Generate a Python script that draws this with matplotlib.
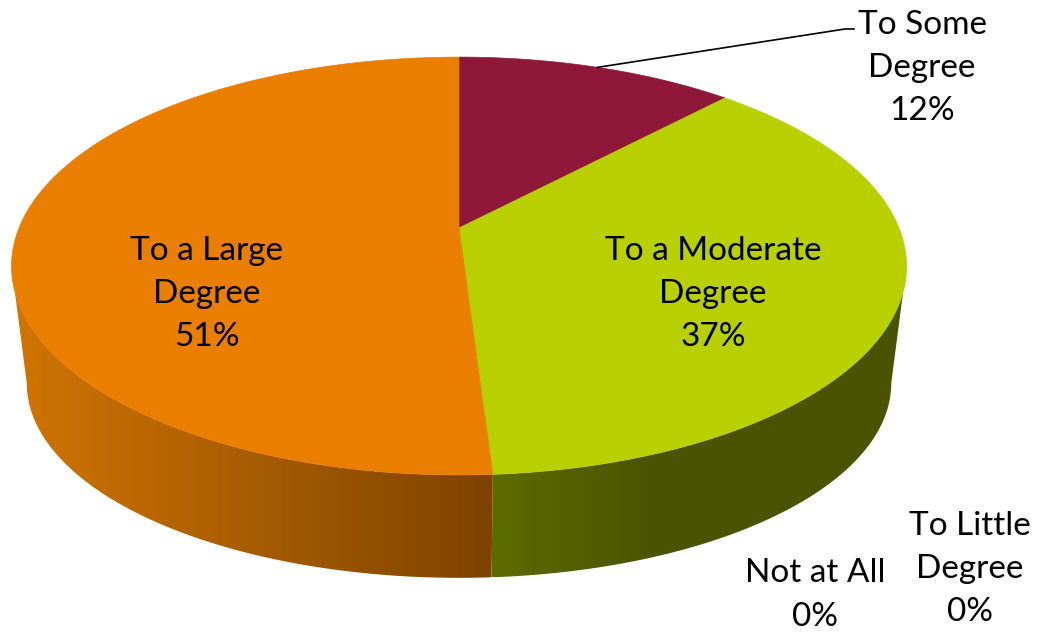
import numpy as np
import matplotlib.pyplot as plt
from matplotlib.patches import Polygon
from matplotlib.colors import LinearSegmentedColormap

# data
labels = ['To Some\nDegree', 'To a Moderate\nDegree', 'To Little\nDegree',
          'Not at All', 'To a Large\nDegree']
values = [12, 37, 0, 0, 51]
top_colors = ['#8f1739', '#b8d000', '#4f81bd', '#c0504d', '#e97e00']
side_colors = [('#6a0f2a', '#5a0c22'), ('#5c6c00', '#4a5300'),
               ('#3a5f8c', '#2c4a6e'), ('#8f3a38', '#6e2c2a'),
               ('#d07504', '#7e4300')]

# label text positions (pixels)
label_pos = [(922, 68), (713, 294), (970, 569), (815, 595), (207, 294)]

plt.rcParams['font.family'] = ['Lato', 'DejaVu Sans']

# projection of the pie (pixel space)
cx, cy = 459, 228
A, B, p = 440, 202, 0.182
A2, B2, Hd = 425, 188, 120


def top_pt(th):
    u, v = np.sin(th), -np.cos(th)
    s = 1 / (1 - p * v)
    return cx + A * u * s, cy + B * v * s


def bot_pt(th):
    u, v = np.sin(th), -np.cos(th)
    s = 1 / (1 - p * v)
    return cx + A2 * u * s, cy + Hd + B2 * v * s


fig = plt.figure(figsize=(10.39, 6.36), dpi=100)
ax = fig.add_axes([0, 0, 1, 1])
ax.set_xlim(0, 1039)
ax.set_ylim(636, 0)
ax.axis('off')

total = sum(values)
bounds = np.concatenate([[0], np.cumsum(values)]) / total * 2 * np.pi

# side walls (only the front part between the two silhouette tangents)
tang = np.arccos(-p)
lo, hi = tang, 2 * np.pi - tang
for i, val in enumerate(values):
    if val == 0:
        continue
    a0, a1 = max(bounds[i], lo), min(bounds[i + 1], hi)
    if a1 <= a0:
        continue
    th = np.linspace(a0, a1, 200)
    tx, ty = top_pt(th)
    bx, by = bot_pt(th)
    xs = np.concatenate([tx, bx[::-1]])
    ys = np.concatenate([ty, by[::-1]])
    poly = Polygon(np.column_stack([xs, ys]), closed=True, facecolor='none',
                   edgecolor='none')
    ax.add_patch(poly)
    x0, x1 = xs.min(), xs.max()
    if i == 1:
        cmap = LinearSegmentedColormap.from_list(
            's', [(0, side_colors[i][0]), (0.4, side_colors[i][1]), (1, side_colors[i][1])])
    else:
        cmap = LinearSegmentedColormap.from_list('s', list(side_colors[i]))
    grad = np.linspace(0, 1, 256).reshape(1, -1)
    im = ax.imshow(grad, cmap=cmap, aspect='auto', interpolation='bilinear',
                   extent=(x0, x1, ys.max(), ys.min()), zorder=1)
    im.set_clip_path(poly)

# top face
for i, val in enumerate(values):
    if val == 0:
        continue
    th = np.linspace(bounds[i], bounds[i + 1], 300)
    tx, ty = top_pt(th)
    xs = np.concatenate([[cx], tx])
    ys = np.concatenate([[cy], ty])
    ax.add_patch(Polygon(np.column_stack([xs, ys]), closed=True,
                         facecolor=top_colors[i], edgecolor=top_colors[i],
                         linewidth=0.5, zorder=2))

# labels
for i, (lab, val) in enumerate(zip(labels, values)):
    x, y = label_pos[i]
    ax.text(x, y, f'{lab}\n{val}%', ha='center', va='center', fontsize=24,
            linespacing=1.55, color='black', zorder=5)

# leader line for the small slice
mid = (bounds[0] + bounds[1]) / 2
ax_, ay_ = top_pt(mid)
ax.plot([ax_, 845, 854], [ay_, 29, 29], color='black', linewidth=1.2, zorder=4)

fig.savefig('out.png', dpi=100)
